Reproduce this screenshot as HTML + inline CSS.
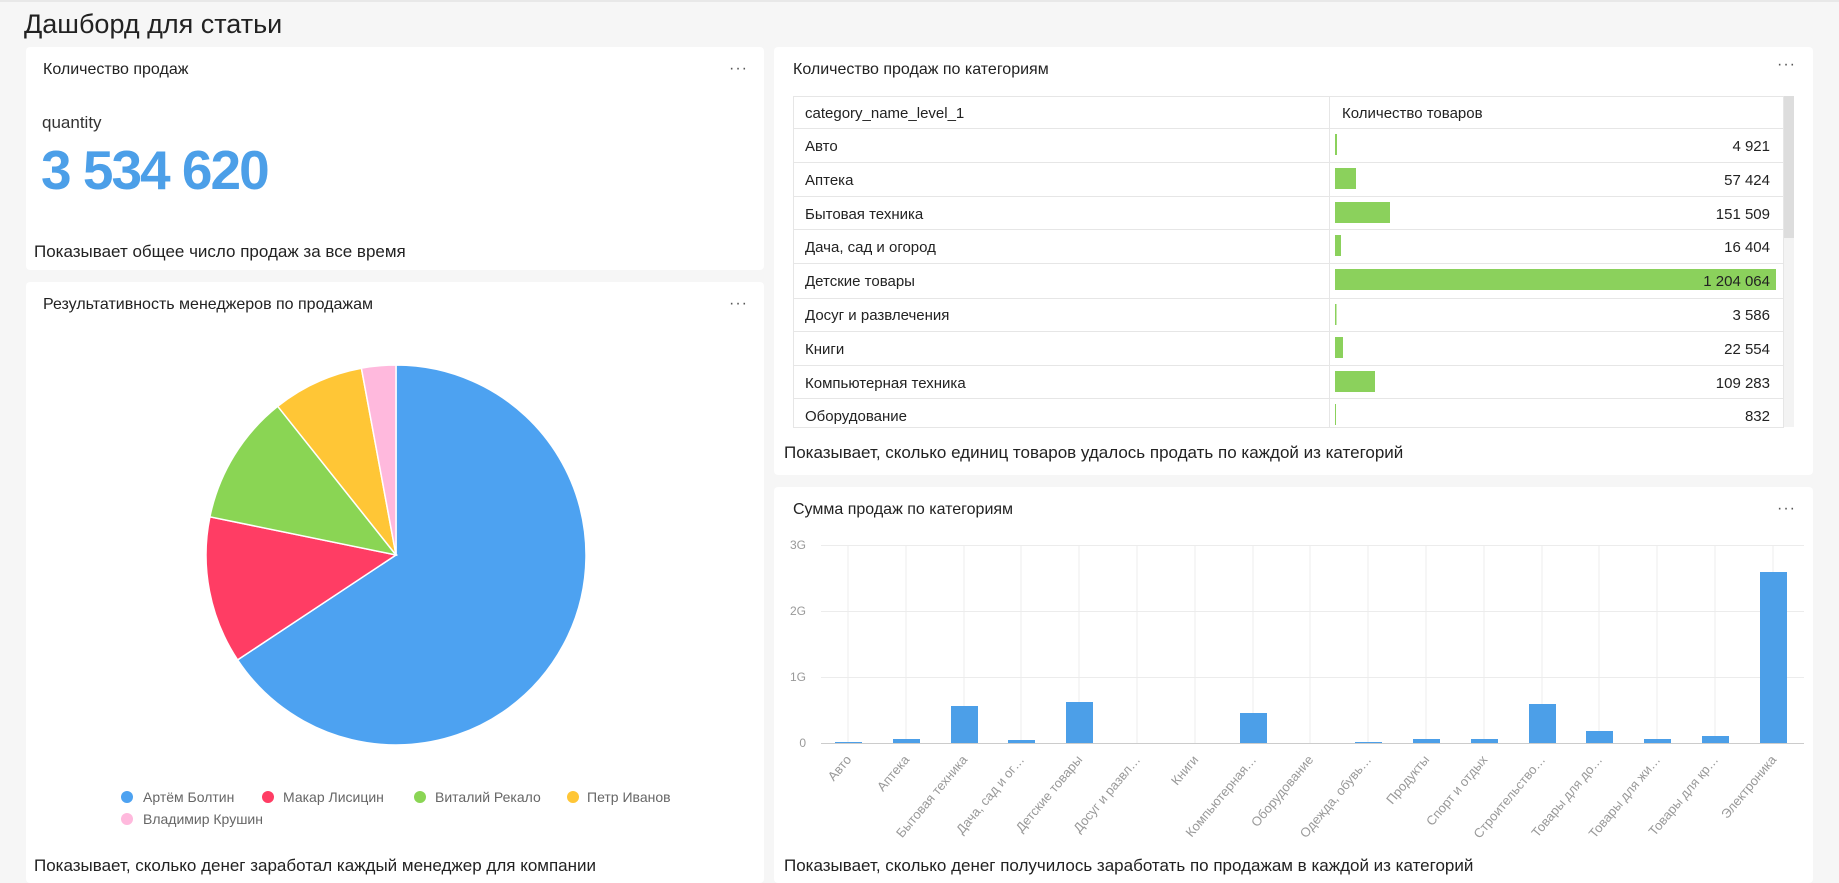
<!DOCTYPE html>
<html><head><meta charset="utf-8"><style>
body{margin:0;width:1839px;height:883px;background:#f6f6f6;font-family:"Liberation Sans","Noto Sans CJK SC",sans-serif;position:relative;overflow:hidden;color:#222}
.c{position:absolute;background:#fff;border-radius:4px}
.t{position:absolute;font-size:16px;color:#222;white-space:nowrap}
.d{position:absolute;font-size:16px;color:#555;letter-spacing:1px}
.f{position:absolute;font-size:17px;color:#222;white-space:nowrap}
</style></head><body>
<div style="position:absolute;left:0;top:0;width:1839px;height:2px;background:#e8e8e8"></div>
<div style="position:absolute;left:24px;top:9px;font-size:27px;font-weight:500;color:#222">Дашборд для статьи</div>

<div class="c" style="left:26px;top:47px;width:738px;height:223px"></div>
<div class="c" style="left:26px;top:282px;width:738px;height:601px"></div>
<div class="c" style="left:774px;top:47px;width:1039px;height:428px"></div>
<div class="c" style="left:774px;top:487px;width:1039px;height:396px"></div>

<div class="t" style="left:43px;top:61px">Количество продаж</div>
<div class="d" style="left:729px;top:60px">···</div>
<div style="position:absolute;left:42px;top:113px;font-size:17px;font-weight:500;color:#333">quantity</div>
<div style="position:absolute;left:41px;top:138px;font-size:55px;font-weight:700;color:#4c9fe8;letter-spacing:-2px">3 534 620</div>
<div class="f" style="left:34px;top:242px">Показывает общее число продаж за все время</div>

<div class="t" style="left:43px;top:296px">Результативность менеджеров по продажам</div>
<div class="d" style="left:729px;top:295px">···</div>
<svg style="position:absolute;left:0;top:0" width="800" height="883">
<g stroke="#fff" stroke-width="1.5">
<path d="M396,555 L396,365 A190,190 0 1,1 237.6,659.9 Z" fill="#4da2f1"/>
<path d="M396,555 L237.6,659.9 A190,190 0 0,1 209.9,516.8 Z" fill="#ff3d64"/>
<path d="M396,555 L209.9,516.8 A190,190 0 0,1 277.7,406.3 Z" fill="#8ad554"/>
<path d="M396,555 L277.7,406.3 A190,190 0 0,1 361.4,368.2 Z" fill="#ffc636"/>
<path d="M396,555 L361.4,368.2 A190,190 0 0,1 396,365 Z" fill="#ffb9dd"/>
</g>
<g font-size="14" fill="#666" font-family="Liberation Sans, sans-serif">
<circle cx="127" cy="797" r="6" fill="#4da2f1"/><text x="143" y="802">Артём Болтин</text>
<circle cx="268" cy="797" r="6" fill="#ff3d64"/><text x="283" y="802">Макар Лисицин</text>
<circle cx="420" cy="797" r="6" fill="#8ad554"/><text x="435" y="802">Виталий Рекало</text>
<circle cx="573" cy="797" r="6" fill="#ffc636"/><text x="587" y="802">Петр Иванов</text>
<circle cx="127" cy="819" r="6" fill="#ffb9dd"/><text x="143" y="824">Владимир Крушин</text>
</g>
</svg>
<div class="f" style="left:34px;top:856px">Показывает, сколько денег заработал каждый менеджер для компании</div>

<div class="t" style="left:793px;top:61px">Количество продаж по категориям</div>
<div class="d" style="left:1777px;top:56px">···</div>
<div style="position:absolute;left:1783px;top:96px;width:11px;height:142px;background:#ddd"></div>
<div style="position:absolute;left:1783px;top:238px;width:11px;height:189px;background:#f3f3f3"></div>
<svg style="position:absolute;left:774px;top:47px" width="1039" height="428">
<g stroke="#e6e6e6" stroke-width="1" fill="none">
<rect x="19.5" y="49.5" width="990" height="331"/>
<line x1="555.5" y1="49" x2="555.5" y2="381"/>
<line x1="19" y1="81.5" x2="1009" y2="81.5"/>
<line x1="19" y1="115.5" x2="1009" y2="115.5"/>
<line x1="19" y1="149.5" x2="1009" y2="149.5"/>
<line x1="19" y1="182.5" x2="1009" y2="182.5"/>
<line x1="19" y1="216.5" x2="1009" y2="216.5"/>
<line x1="19" y1="251.5" x2="1009" y2="251.5"/>
<line x1="19" y1="284.5" x2="1009" y2="284.5"/>
<line x1="19" y1="318.5" x2="1009" y2="318.5"/>
<line x1="19" y1="351.5" x2="1009" y2="351.5"/>
</g>
<g fill="#8bd15c">
<rect x="561" y="87" width="2" height="21"/>
<rect x="561" y="121" width="21" height="21"/>
<rect x="561" y="155" width="55" height="21"/>
<rect x="561" y="188" width="6" height="21"/>
<rect x="561" y="222" width="441" height="21"/>
<rect x="561" y="257" width="1.5" height="21"/>
<rect x="561" y="290" width="8" height="21"/>
<rect x="561" y="324" width="40" height="21"/>
<rect x="561" y="357" width="1" height="21"/>
</g>
<g font-size="15" fill="#222" font-family="Liberation Sans, sans-serif">
<text x="31" y="71" font-weight="500">category_name_level_1</text>
<text x="568" y="71" font-weight="500">Количество товаров</text>
<text x="31" y="104">Авто</text>
<text x="31" y="138">Аптека</text>
<text x="31" y="172">Бытовая техника</text>
<text x="31" y="205">Дача, сад и огород</text>
<text x="31" y="239">Детские товары</text>
<text x="31" y="273">Досуг и развлечения</text>
<text x="31" y="307">Книги</text>
<text x="31" y="341">Компьютерная техника</text>
<text x="31" y="374">Оборудование</text>
<g text-anchor="end">
<text x="996" y="104">4 921</text>
<text x="996" y="138">57 424</text>
<text x="996" y="172">151 509</text>
<text x="996" y="205">16 404</text>
<text x="996" y="239">1 204 064</text>
<text x="996" y="273">3 586</text>
<text x="996" y="307">22 554</text>
<text x="996" y="341">109 283</text>
<text x="996" y="374">832</text>
</g></g>
</svg>
<div class="f" style="left:784px;top:443px">Показывает, сколько единиц товаров удалось продать по каждой из категорий</div>

<div class="t" style="left:793px;top:501px">Сумма продаж по категориям</div>
<div class="d" style="left:1777px;top:500px">···</div>
<svg style="position:absolute;left:0;top:0" width="1839" height="883">
<g stroke="#ececec" stroke-width="1">
<line x1="821" y1="545.5" x2="1804" y2="545.5"/>
<line x1="821" y1="611.5" x2="1804" y2="611.5"/>
<line x1="821" y1="677.5" x2="1804" y2="677.5"/>
<line x1="848" y1="545" x2="848" y2="743"/><line x1="906" y1="545" x2="906" y2="743"/>
<line x1="964" y1="545" x2="964" y2="743"/><line x1="1021" y1="545" x2="1021" y2="743"/>
<line x1="1079" y1="545" x2="1079" y2="743"/><line x1="1137" y1="545" x2="1137" y2="743"/>
<line x1="1195" y1="545" x2="1195" y2="743"/><line x1="1253" y1="545" x2="1253" y2="743"/>
<line x1="1310" y1="545" x2="1310" y2="743"/><line x1="1368" y1="545" x2="1368" y2="743"/>
<line x1="1426" y1="545" x2="1426" y2="743"/><line x1="1484" y1="545" x2="1484" y2="743"/>
<line x1="1542" y1="545" x2="1542" y2="743"/><line x1="1599" y1="545" x2="1599" y2="743"/>
<line x1="1657" y1="545" x2="1657" y2="743"/><line x1="1715" y1="545" x2="1715" y2="743"/>
<line x1="1773" y1="545" x2="1773" y2="743"/>
</g>
<line x1="821" y1="743.5" x2="1804" y2="743.5" stroke="#ccc"/>
<g fill="#4c9fe8">
<rect x="835" y="742" width="27" height="1"/>
<rect x="893" y="739" width="27" height="4"/>
<rect x="951" y="706" width="27" height="37"/>
<rect x="1008" y="740" width="27" height="3"/>
<rect x="1066" y="702" width="27" height="41"/>
<rect x="1240" y="713" width="27" height="30"/>
<rect x="1355" y="742" width="27" height="1"/>
<rect x="1413" y="739" width="27" height="4"/>
<rect x="1471" y="739" width="27" height="4"/>
<rect x="1529" y="704" width="27" height="39"/>
<rect x="1586" y="731" width="27" height="12"/>
<rect x="1644" y="739" width="27" height="4"/>
<rect x="1702" y="736" width="27" height="7"/>
<rect x="1760" y="572" width="27" height="171"/>
</g>
<g font-size="12" fill="#999" font-family="Liberation Sans, sans-serif" text-anchor="end">
<text x="806" y="549">3G</text><text x="806" y="615">2G</text><text x="806" y="681">1G</text><text x="806" y="747">0</text>
</g>
<g font-size="13" fill="#999" font-family="Liberation Sans, sans-serif" text-anchor="end">
<text transform="translate(852,760) rotate(-50)">Авто</text>
<text transform="translate(910,760) rotate(-50)">Аптека</text>
<text transform="translate(968,760) rotate(-50)">Бытовая техника</text>
<text transform="translate(1025,760) rotate(-50)">Дача, сад и ог…</text>
<text transform="translate(1083,760) rotate(-50)">Детские товары</text>
<text transform="translate(1141,760) rotate(-50)">Досуг и развл…</text>
<text transform="translate(1199,760) rotate(-50)">Книги</text>
<text transform="translate(1257,760) rotate(-50)">Компьютерная…</text>
<text transform="translate(1314,760) rotate(-50)">Оборудование</text>
<text transform="translate(1372,760) rotate(-50)">Одежда, обувь…</text>
<text transform="translate(1430,760) rotate(-50)">Продукты</text>
<text transform="translate(1488,760) rotate(-50)">Спорт и отдых</text>
<text transform="translate(1546,760) rotate(-50)">Строительство…</text>
<text transform="translate(1603,760) rotate(-50)">Товары для до…</text>
<text transform="translate(1661,760) rotate(-50)">Товары для жи…</text>
<text transform="translate(1719,760) rotate(-50)">Товары для кр…</text>
<text transform="translate(1777,760) rotate(-50)">Электроника</text>
</g>
</svg>
<div class="f" style="left:784px;top:856px">Показывает, сколько денег получилось заработать по продажам в каждой из категорий</div>
</body></html>
